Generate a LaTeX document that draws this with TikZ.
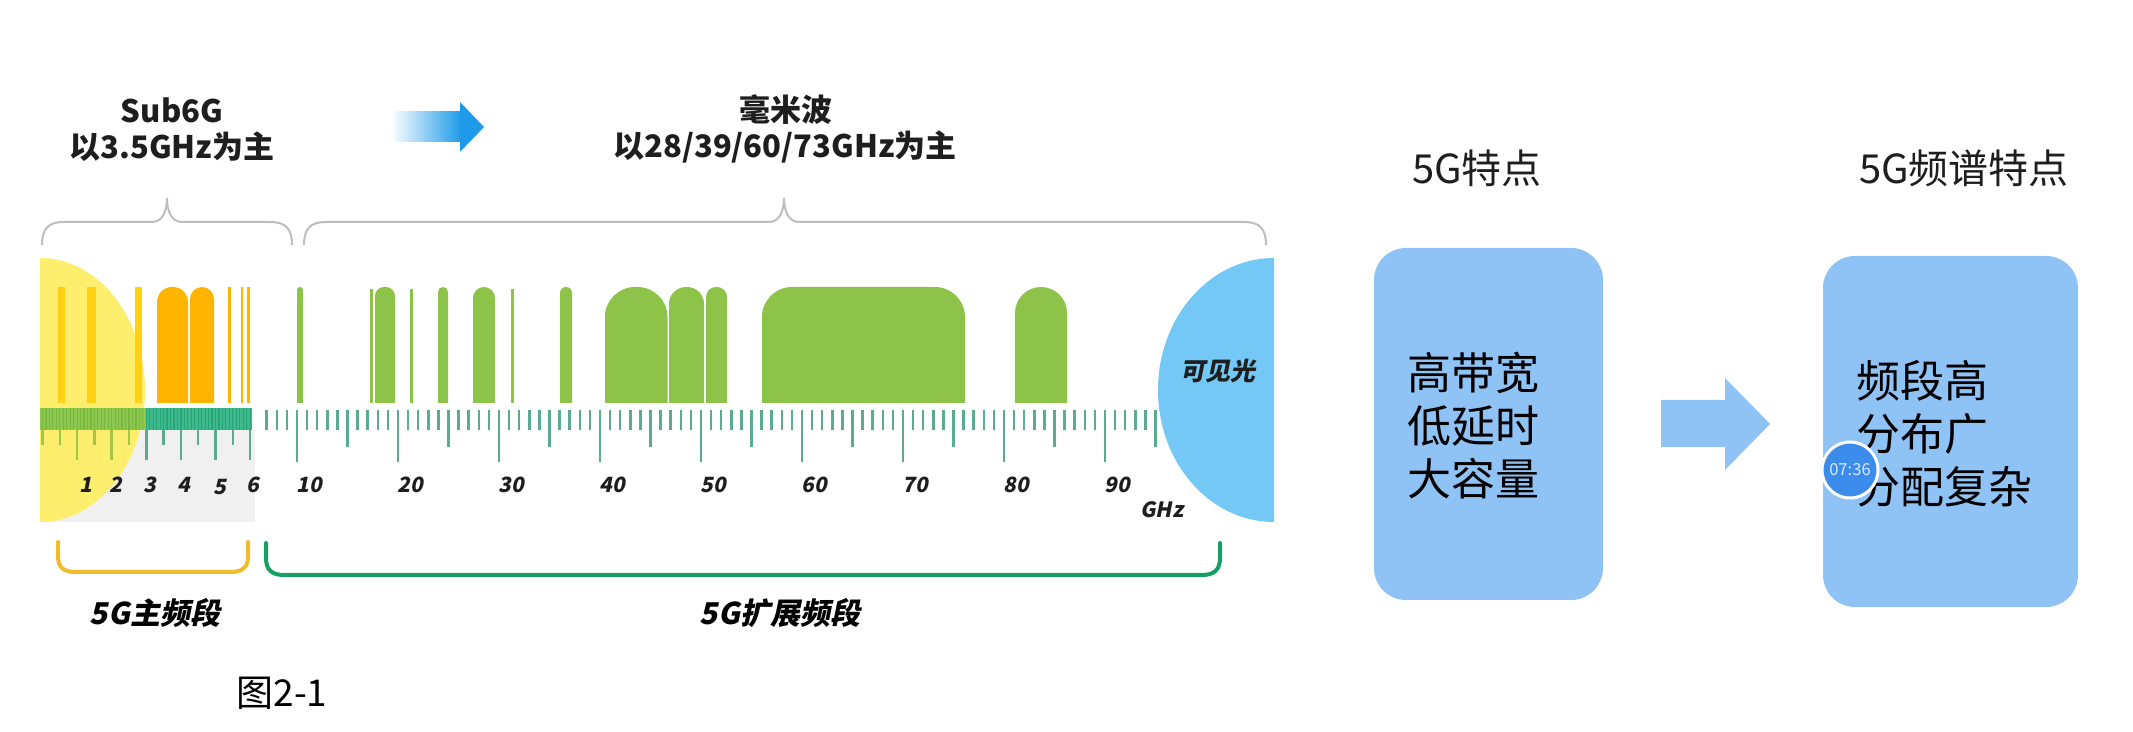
\documentclass[tikz,border=0pt]{standalone}
\usepackage{fontspec}
\setmainfont{Noto Sans CJK SC}
\newfontfamily\slfont{Noto Sans CJK SC}[FakeSlant=0.2]
\definecolor{ylbg}{RGB}{254,238,110}
\definecolor{goldbar}{RGB}{255,208,20}
\definecolor{orng}{RGB}{255,180,0}
\definecolor{bargreen}{RGB}{141,195,72}
\definecolor{bandgreen}{RGB}{143,200,80}
\definecolor{bandgreend}{RGB}{120,185,60}
\definecolor{bandteal}{RGB}{62,185,140}
\definecolor{bandteald}{RGB}{40,165,120}
\definecolor{tickgreen}{RGB}{160,200,70}
\definecolor{tickteal}{RGB}{90,172,145}
\definecolor{bggray}{RGB}{240,240,240}
\definecolor{visblue}{RGB}{115,200,245}
\definecolor{boxblue}{RGB}{143,194,245}
\definecolor{bracegray}{RGB}{190,190,190}
\definecolor{brkyellow}{RGB}{242,187,46}
\definecolor{brkgreen}{RGB}{24,160,100}
\definecolor{arrblue}{RGB}{30,155,232}
\definecolor{txtdark}{RGB}{30,30,30}
\definecolor{timerblue}{RGB}{60,140,235}
\tikzset{
 titletxt/.style={font=\fontsize{15.5}{18}\selectfont\bfseries, text=txtdark, inner sep=0pt},
 headtxt/.style={font=\fontsize{20}{24}\selectfont, text=txtdark, inner sep=0pt},
 boxst/.style={fill=boxblue, rounded corners=16pt, draw=none, inner sep=0pt},
 boxtxt/.style={font=\fontsize{22}{26.5}\selectfont, align=left, anchor=west, inner sep=0pt, text=black},
 rulelab/.style={font=\slfont\fontsize{10.5}{12}\selectfont\bfseries, text=txtdark, inner sep=0pt},
 bandlab/.style={font=\slfont\fontsize{15}{18}\selectfont\bfseries, text=black, inner sep=0pt},
 bracegr/.style={draw=bracegray, line width=1pt},
 tickline/.style={draw=tickteal, line width=1.25pt},
 bracket/.style={line width=2pt, line cap=round},
}
\begin{document}
\begin{tikzpicture}[x=0.5pt,y=-0.5pt]
\useasboundingbox (0,0) rectangle (2133,732);
\fill[white] (0,0) rectangle (2133,732);

% titles
\node[titletxt] (sub6) at (172,110) {Sub6G};
\node[titletxt] (sub6b) at (172,147) {以3.5GHz为主};
\node[titletxt] (mmw) at (786,110) {毫米波};
\node[titletxt] (mmwb) at (785,147) {以28/39/60/73GHz为主};

% gradient arrow
\shade[left color=white, right color=arrblue] (391,112) rectangle (461,142);
\fill[arrblue] (460,102) -- (484,127) -- (460,152) -- cycle;

% braces
\draw[bracegr] (42,245) .. controls (42,229) and (48,222) .. (64,222) -- (152,222)
  .. controls (162,222) and (167,212) .. (167,198) .. controls (167,212) and (172,222) .. (182,222)
  -- (270,222) .. controls (286,222) and (292,229) .. (292,245);
\draw[bracegr] (304,245) .. controls (304,229) and (310,222) .. (326,222) -- (769,222)
  .. controls (779,222) and (784,212) .. (784,198) .. controls (784,212) and (789,222) .. (799,222)
  -- (1244,222) .. controls (1260,222) and (1266,229) .. (1266,245);

% gray background and yellow half ellipse
\fill[bggray] (40,430) rectangle (255,522);
\begin{scope}
\clip (40,200) rectangle (300,600);
\fill[ylbg] (40,390) ellipse [x radius=52.5pt, y radius=66pt];
\end{scope}

% visible light
\begin{scope}
\clip (1100,200) rectangle (1274,600);
\fill[visblue] (1274,390) ellipse [x radius=58pt, y radius=66pt];
\end{scope}
\node[font=\slfont\fontsize{12.5}{14}\selectfont\bfseries, text=txtdark, inner sep=0pt] (vis) at (1218,371) {可见光};

% bars
\begin{scope}
\clip (0,0) rectangle (2133,403);
\fill[goldbar] (58,287) rectangle (65,403);
\fill[goldbar] (87,287) rectangle (96,403);
\fill[goldbar] (135,287) rectangle (142,403);
\fill[orng, rounded corners=7.5pt] (157,287) rectangle (188,450);
\fill[orng, rounded corners=6pt] (190,287) rectangle (214,450);
\fill[orng] (228,287) rectangle (230.5,403);
\fill[orng] (240.5,287) rectangle (243,403);
\fill[orng] (247,287) rectangle (249.5,403);
\fill[bargreen, rounded corners=1.5pt] (297,287) rectangle (303,450);
\fill[bargreen] (370,289) rectangle (372.5,403);
\fill[bargreen, rounded corners=4.5pt] (375,287) rectangle (395,450);
\fill[bargreen] (410,289) rectangle (412.5,403);
\fill[bargreen, rounded corners=2.5pt] (438,287) rectangle (448,450);
\fill[bargreen, rounded corners=5.5pt] (473,287) rectangle (495,450);
\fill[bargreen] (511,289) rectangle (513.5,403);
\fill[bargreen, rounded corners=3pt] (560,287) rectangle (572,450);
\fill[bargreen, rounded corners=15pt] (605,287) rectangle (667.5,450);
\fill[bargreen, rounded corners=8.5pt] (669,287) rectangle (704,450);
\fill[bargreen, rounded corners=5pt] (706,287) rectangle (727,450);
\fill[bargreen, rounded corners=15pt] (762,287) rectangle (965,450);
\fill[bargreen, rounded corners=13pt] (1015,287) rectangle (1067,450);
\end{scope}

% left ruler band
\fill[bandgreen] (40,408) rectangle (146,430);
\fill[bandteal] (146,408) rectangle (252,430);
\foreach \i in {0,...,29}{
  \pgfmathsetmacro\xx{42.5+3.46*\i}
  \draw[bandgreend, line width=0.6pt] (\xx,408) -- (\xx,430);
}
\foreach \i in {30,...,60}{
  \pgfmathsetmacro\xx{42.5+3.46*\i}
  \draw[bandteald, line width=0.6pt] (\xx,408) -- (\xx,430);
}
\foreach \i in {0,...,12}{
  \pgfmathsetmacro\xx{42.5+17.3*\i}
  \pgfmathsetmacro\yy{ifthenelse(mod(\i,2)==0 && \i>0,460,445)}
  \pgfmathsetmacro\cc{ifthenelse(\i<6,1,0)}
  \ifdim\cc pt>0.5pt
    \draw[tickgreen, line width=1.25pt] (\xx,430) -- (\xx,\yy);
  \else
    \draw[tickline] (\xx,430) -- (\xx,\yy);
  \fi
}
\node[rulelab] (l1) at (86,485) {1};
\node[rulelab] (l2) at (116,485) {2};
\node[rulelab] (l3) at (150,485) {3};
\node[rulelab] (l4) at (184,485) {4};
\node[rulelab] (l5) at (220,487) {5};
\node[rulelab] (l6) at (253,485) {6};

% right ruler
\foreach \f in {7,...,95}{
  \pgfmathsetmacro\xx{297+10.1*(\f-10)}
  \pgfmathsetmacro\yy{ifthenelse(mod(\f,10)==0,462,ifthenelse(mod(\f,5)==0,447,430))}
  \draw[tickline] (\xx,410) -- (\xx,\yy);
}
\foreach \f in {10,20,...,90}{
  \pgfmathsetmacro\xx{297+10.1*(\f-10)+12}
  \node[rulelab] (r\f) at (\xx,485) {\f};
}
\node[rulelab] (ghz) at (1162,510) {GHz};

% bottom brackets
\draw[bracket, brkyellow] (58,542) -- (58,556) .. controls (58,568) and (64,572) .. (76,572)
  -- (230,572) .. controls (242,572) and (248,568) .. (248,556) -- (248,542);
\draw[bracket, brkgreen] (266,543) -- (266,558) .. controls (266,570) and (272,575) .. (284,575)
  -- (1202,575) .. controls (1214,575) and (1220,570) .. (1220,558) -- (1220,543);
\node[bandlab] (mainband) at (155,613) {5G主频段};
\node[bandlab] (extband) at (780,613) {5G扩展频段};
\node[font=\fontsize{18.5}{22}\selectfont, text=black, inner sep=0pt] (fig) at (282,693) {图2-1};

% right panel
\node[headtxt] (h1) at (1477,168) {5G特点};
\node[headtxt] (h2) at (1964,168) {5G频谱特点};
\node[boxst, minimum width=114.5pt, minimum height=176pt] (box1) at (1488.5,424) {};
\node[boxst, minimum width=127.5pt, minimum height=175.5pt] (box2) at (1950.5,431.5) {};
\node[boxtxt] (t1) at (1407,426) {高带宽\\低延时\\大容量};
\node[boxtxt] (t2) at (1856,434) {频段高\\分布广\\分配复杂};
\fill[boxblue] (1661,400) -- (1725,400) -- (1725,378) -- (1770,424) -- (1725,470) -- (1725,447) -- (1661,447) -- cycle;

% video timer overlay
\node[circle, fill=timerblue, draw=white, line width=1.5pt, minimum size=28pt, inner sep=0pt,
  text={rgb,255:red,215;green,232;blue,255}, font=\fontsize{8.3}{9}\selectfont] (timer) at (1850,470) {07:36};
\end{tikzpicture}
\end{document}
